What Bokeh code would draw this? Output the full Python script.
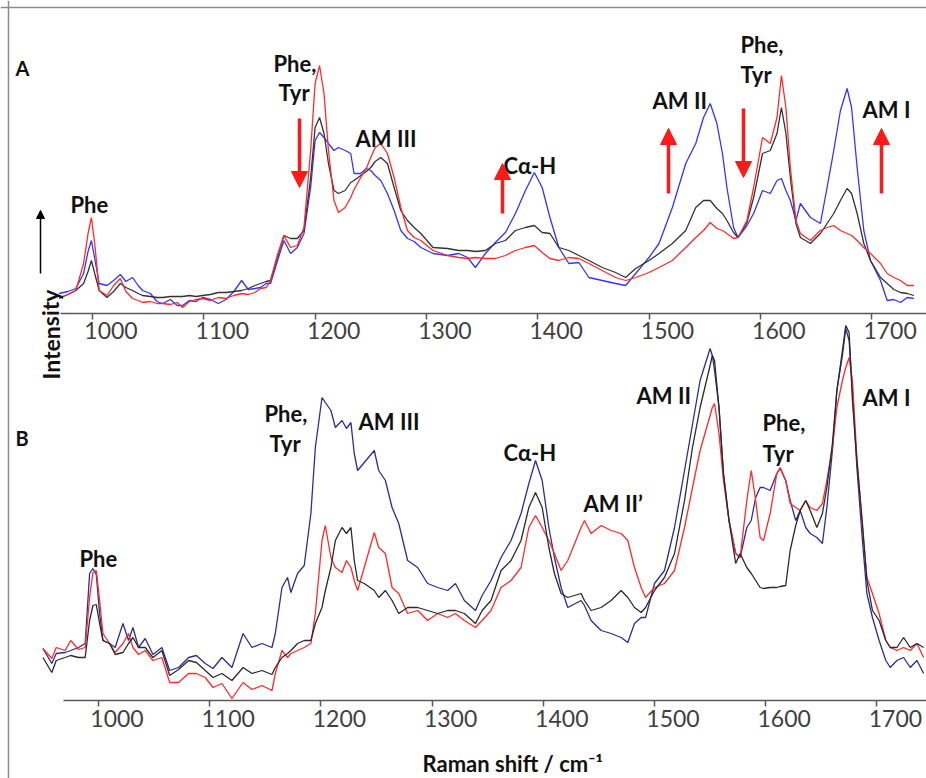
from bokeh.plotting import figure
from bokeh.models import Range1d, LinearAxis, FixedTicker, Label, Arrow, NormalHead, Span
from bokeh.embed import file_html
from bokeh.resources import INLINE

# ---------------- data (Raman shift, cm-1; intensity in arbitrary units) ----------------
shift_a = [970, 978, 985, 992, 996, 999, 1002, 1006, 1013, 1019,
           1025, 1030, 1036, 1041, 1045, 1052, 1058, 1063, 1070, 1076,
           1081, 1087, 1093, 1099, 1106, 1113, 1120, 1127, 1134, 1140,
           1146, 1151, 1156, 1160, 1166, 1172, 1178, 1184, 1190, 1196,
           1200, 1204, 1208, 1212, 1217, 1221, 1227, 1232, 1235, 1241,
           1246, 1250, 1254, 1259, 1265, 1271, 1277, 1283, 1289, 1295,
           1306, 1319, 1329, 1337, 1344, 1353, 1362, 1371, 1380, 1389,
           1397, 1404, 1411, 1419, 1428, 1437, 1446, 1458, 1470, 1479,
           1488, 1500, 1509, 1521, 1533, 1542, 1549, 1555, 1561, 1566,
           1570, 1576, 1580, 1588, 1594, 1602, 1609, 1615, 1619, 1623,
           1627, 1632, 1636, 1645, 1654, 1660, 1666, 1672, 1678, 1682,
           1687, 1693, 1699, 1708, 1714, 1720, 1726, 1732, 1738]
a_blue = [20, 22, 25, 40, 62, 73, 55, 30, 28, 33,
          39, 32, 36, 28, 23, 20, 12, 10, 14, 8,
          8, 13, 12, 16, 14, 10, 14, 22, 33, 24,
          25, 26, 30, 30, 52, 73, 60, 66, 80, 126,
          173, 181, 176, 170, 163, 166, 163, 160, 140, 140,
          145, 143, 138, 133, 120, 103, 83, 75, 72, 66,
          60, 58, 60, 56, 46, 60, 71, 81, 100, 123,
          141, 126, 96, 66, 50, 51, 36, 33, 30, 28,
          40, 56, 70, 106, 150, 170, 196, 210, 190, 160,
          126, 86, 76, 88, 100, 123, 120, 133, 135, 123,
          113, 93, 110, 96, 90, 126, 163, 203, 225, 206,
          146, 83, 53, 33, 13, 14, 11, 16, 15]
a_black = [15, 19, 23, 30, 42, 53, 40, 23, 16, 22,
           30, 26, 23, 20, 18, 17, 16, 16, 17, 17,
           17, 18, 17, 18, 19, 21, 21, 22, 23, 25,
           28, 30, 32, 33, 56, 78, 75, 75, 83, 136,
           186, 196, 180, 150, 123, 120, 123, 131, 133, 138,
           142, 146, 152, 156, 150, 126, 103, 93, 86, 80,
           66, 65, 63, 63, 62, 63, 70, 73, 83, 86,
           88, 81, 80, 66, 63, 58, 53, 46, 41, 36,
           45, 53, 60, 70, 83, 106, 113, 113, 105, 100,
           93, 81, 76, 91, 116, 160, 163, 180, 206, 180,
           136, 90, 76, 70, 80, 90, 100, 113, 125, 120,
           100, 70, 53, 36, 30, 24, 21, 20, 18]
a_red = [16, 19, 23, 50, 80, 96, 70, 23, 18, 28,
         35, 22, 15, 13, 11, 12, 10, 10, 9, 11,
         6, 12, 14, 15, 13, 16, 15, 18, 20, 19,
         21, 25, 26, 33, 58, 78, 66, 68, 86, 163,
         230, 248, 220, 163, 113, 101, 106, 116, 124, 136,
         145, 156, 166, 170, 160, 136, 106, 83, 76, 73,
         63, 58, 56, 55, 56, 55, 55, 58, 63, 66,
         68, 61, 55, 53, 56, 55, 50, 43, 36, 33,
         36, 41, 46, 53, 66, 76, 83, 91, 85, 83,
         80, 75, 76, 93, 126, 176, 170, 196, 238, 206,
         146, 93, 80, 73, 83, 86, 88, 83, 80, 78,
         73, 66, 60, 50, 40, 36, 33, 28, 28]

shift_b = [950, 958, 962, 970, 975, 982, 988, 992, 995, 998,
           1001, 1004, 1010, 1015, 1022, 1027, 1031, 1036, 1042, 1049,
           1057, 1064, 1072, 1081, 1088, 1096, 1103, 1111, 1120, 1130,
           1138, 1147, 1156, 1159, 1165, 1170, 1173, 1179, 1185, 1191,
           1195, 1201, 1204, 1209, 1213, 1219, 1223, 1227, 1230, 1233,
           1239, 1248, 1252, 1258, 1264, 1270, 1278, 1287, 1296, 1305,
           1314, 1321, 1329, 1339, 1345, 1353, 1362, 1371, 1380, 1387,
           1393, 1399, 1405, 1410, 1416, 1422, 1434, 1437, 1443, 1452,
           1461, 1470, 1476, 1482, 1488, 1492, 1500, 1509, 1518, 1527,
           1534, 1541, 1550, 1552, 1554, 1558, 1562, 1567, 1573, 1577,
           1583, 1587, 1591, 1595, 1598, 1604, 1610, 1613, 1618, 1622,
           1627, 1631, 1636, 1640, 1646, 1651, 1655, 1660, 1664, 1669,
           1672, 1675, 1678, 1682, 1687, 1691, 1696, 1702, 1708, 1712,
           1718, 1724, 1730, 1736, 1742]
b_blue = [52, 37, 47, 48, 50, 53, 57, 127, 132, 126,
          87, 60, 57, 53, 77, 60, 73, 53, 62, 46,
          53, 30, 33, 43, 45, 37, 32, 43, 33, 67,
          53, 57, 53, 67, 113, 123, 108, 127, 135, 187,
          253, 303, 298, 290, 273, 280, 272, 278, 247, 230,
          238, 250, 230, 220, 193, 177, 140, 133, 117, 113,
          110, 117, 100, 90, 105, 120, 143, 160, 187, 217,
          240, 220, 173, 143, 113, 93, 100, 95, 80, 70,
          67, 63, 58, 77, 83, 83, 117, 130, 173, 230,
          275, 320, 352, 345, 330, 293, 227, 180, 147, 143,
          173, 180, 203, 213, 213, 210, 227, 232, 220, 200,
          180, 190, 173, 167, 163, 157, 193, 250, 310, 345,
          372, 360, 310, 233, 160, 107, 83, 60, 40, 33,
          40, 43, 33, 40, 27]
b_black = [43, 28, 40, 43, 45, 43, 43, 80, 95, 96,
           77, 60, 57, 46, 48, 57, 63, 53, 53, 43,
           50, 25, 31, 40, 38, 30, 23, 27, 20, 33,
           27, 30, 26, 33, 43, 47, 50, 57, 60, 60,
           77, 93, 110, 133, 160, 173, 167, 173, 140, 120,
           117, 110, 103, 110, 100, 87, 93, 93, 90, 87,
           90, 90, 87, 77, 90, 100, 130, 140, 160, 193,
           208, 193, 153, 127, 107, 103, 107, 100, 90, 93,
           100, 110, 103, 93, 88, 93, 110, 123, 147, 200,
           252, 293, 335, 345, 340, 293, 227, 180, 137, 147,
           133, 127, 120, 113, 112, 113, 113, 114, 115, 150,
           175, 190, 200, 190, 173, 187, 213, 257, 310, 350,
           375, 368, 300, 240, 177, 120, 90, 80, 60, 53,
           53, 63, 53, 57, 53]
b_red = [52, 42, 53, 50, 60, 51, 53, 103, 128, 130,
         100, 67, 57, 48, 57, 67, 53, 46, 50, 40,
         43, 18, 18, 27, 27, 23, 13, 17, 2, 18,
         11, 15, 10, 27, 50, 43, 47, 50, 53, 57,
         87, 160, 175, 143, 133, 128, 140, 133, 120, 110,
         133, 168, 153, 147, 113, 107, 87, 90, 80, 87,
         83, 87, 80, 73, 80, 90, 113, 120, 133, 173,
         185, 173, 160, 147, 130, 140, 173, 180, 167, 175,
         170, 167, 160, 133, 113, 103, 113, 117, 130, 173,
         212, 250, 285, 293, 297, 267, 220, 180, 147, 143,
         200, 230, 200, 163, 160, 187, 227, 233, 220, 197,
         193, 190, 200, 193, 190, 197, 220, 253, 293, 320,
         333, 343, 320, 243, 173, 123, 107, 87, 60, 53,
         50, 53, 50, 57, 43]

tick_values = [1000, 1100, 1200, 1300, 1400, 1500, 1600, 1700]

# ---------------- figure (canvas pixels == page pixels) ----------------
W, H = 926, 778
SB, SA = 1.112, 1.113                 # px per cm-1 in panels B and A
XB0 = 1000 - 98 / SB                  # panel B: 1000 cm-1 at x=98
XA0 = 1000 - 92 / SA                  # panel A: 1000 cm-1 at x=92
LAB_SHIFT = 18.5                      # tick labels sit right of their ticks

p = figure(width=W, height=H, output_backend="svg", toolbar_location=None,
           x_range=Range1d(XB0, XB0 + W / SB), y_range=Range1d(-78, 700),
           x_axis_type=None, y_axis_type=None,
           min_border_left=0, min_border_right=0, min_border_top=0, min_border_bottom=0)
p.extra_x_ranges = {
    "xa": Range1d(XA0, XA0 + W / SA),
    "xa_lab": Range1d(XA0 - LAB_SHIFT / SA, XA0 - LAB_SHIFT / SA + W / SA),
    "xb_lab": Range1d(XB0 - LAB_SHIFT / SB, XB0 - LAB_SHIFT / SB + W / SB),
}
p.extra_y_ranges = {"ya": Range1d(-465, 313)}
p.outline_line_color = None
p.background_fill_color = "white"
p.border_fill_color = "white"


def X(px):
    return XB0 + px / SB


def Y(py):
    return 700 - py


def tick_axis(range_name, loc, lo):
    ax = LinearAxis(x_range_name=range_name, fixed_location=loc, bounds=(lo, 1750),
                    ticker=FixedTicker(ticks=tick_values))
    ax.axis_line_color = "#595959"
    ax.axis_line_width = 1.5
    ax.major_tick_line_color = "#595959"
    ax.major_tick_line_width = 1.5
    ax.major_tick_out = 6
    ax.major_tick_in = 0
    ax.minor_tick_out = 0
    ax.minor_tick_in = 0
    ax.major_label_text_font_size = "0px"
    ax.major_label_text_color = None
    p.add_layout(ax, "below")


def label_axis(range_name, loc, standoff):
    ax = LinearAxis(x_range_name=range_name, fixed_location=loc,
                    ticker=FixedTicker(ticks=tick_values))
    ax.axis_line_color = None
    ax.major_tick_line_color = None
    ax.minor_tick_line_color = None
    ax.major_tick_out = 0
    ax.major_tick_in = 0
    ax.major_label_text_font = "Lato"
    ax.major_label_text_font_size = "23px"
    ax.major_label_text_color = "#404040"
    ax.major_label_standoff = standoff
    p.add_layout(ax, "below")


# panel B axis (at y=700) and panel A axis (at y=313)
tick_axis("default", 0, 968.5)
label_axis("xb_lab", 0, 9)
tick_axis("xa", 387, 971)
label_axis("xa_lab", 387, 8)

# ---------------- spectra ----------------
p.line(shift_a, a_blue, x_range_name="xa", y_range_name="ya", line_color="#3434ff", line_width=1.3)
p.line(shift_a, a_black, x_range_name="xa", y_range_name="ya", line_color="#333333", line_width=1.3)
p.line(shift_a, a_red, x_range_name="xa", y_range_name="ya", line_color="#ff2a2a", line_width=1.3)

p.line(shift_b, b_blue, line_color="#2c2c98", line_width=1.3)
p.line(shift_b, b_red, line_color="#ff2a2a", line_width=1.3)
p.line(shift_b, b_black, line_color="#2a2a2a", line_width=1.3)


# ---------------- annotations ----------------
def lab(text, px, py, size="22px", align="left", angle=0.0):
    p.add_layout(Label(x=X(px), y=Y(py), text=text, text_font="Lato",
                       text_font_size=size, text_font_style="bold",
                       text_color="#111111", text_align=align,
                       text_baseline="alphabetic", angle=angle))


# panel letters
lab("A", 15, 67, size="20px")
lab("B", 15, 437, size="20px")

# panel A labels
lab("Phe", 70, 204)
lab("Phe,", 273, 63)
lab("Tyr", 278, 92)
lab("AM III", 355, 138)
lab("Cα-H", 503, 165)
lab("AM II", 652, 100)
lab("Phe,", 740, 44)
lab("Tyr", 740, 74)
lab("AM I", 862, 109)

# panel B labels
lab("Phe", 79, 558)
lab("Phe,", 264, 413)
lab("Tyr", 269, 443)
lab("AM III", 358, 421)
lab("Cα-H", 503, 452)
lab("AM II’", 583, 503)
lab("AM II", 636, 395)
lab("Phe,", 762, 422)
lab("Tyr", 762, 453)
lab("AM I", 862, 397)

# axis titles
lab("Intensity", 50, 334, size="23px", align="center", angle=1.5708)
lab("Raman shift / cm⁻¹", 422, 763, size="22px")

# red change arrows (panel A)
for (ax0, y0, y1) in [(299, 118, 187), (502, 213, 163), (668, 193, 128),
                      (743, 108, 177), (881, 193, 128)]:
    p.add_layout(Arrow(end=NormalHead(size=16, fill_color="#ff1a1a", line_color="#ff1a1a", line_width=1),
                       x_start=X(ax0), y_start=Y(y0), x_end=X(ax0), y_end=Y(y1),
                       line_color="#ff1a1a", line_width=3.5))

# intensity arrow
p.add_layout(Arrow(end=NormalHead(size=8, fill_color="black", line_color="black", line_width=1),
                   x_start=X(40), y_start=Y(273), x_end=X(40), y_end=Y(210),
                   line_color="black", line_width=1.5))

# outer frame lines (top and left)
p.add_layout(Span(location=Y(7), dimension="width", line_color="#8c8c8c", line_width=1.5))
p.add_layout(Span(location=X(8), dimension="height", line_color="#8c8c8c", line_width=1.5))

open("out.html", "w").write(file_html(p, INLINE))
